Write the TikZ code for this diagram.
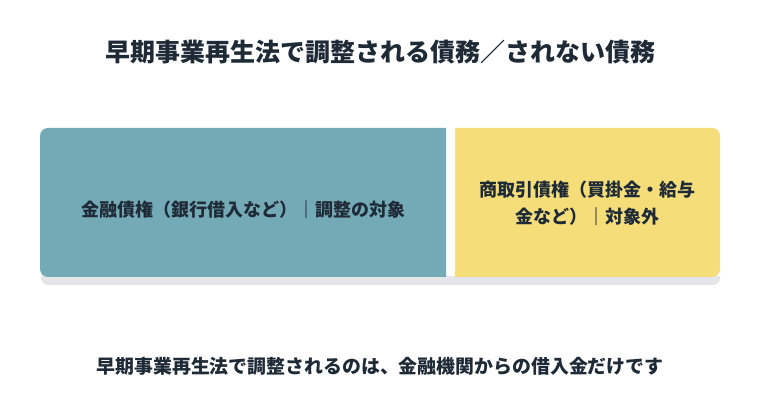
\documentclass[tikz,border=0pt]{standalone}
\usepackage{fontspec}
\setmainfont{Noto Sans CJK JP}
\definecolor{ink}{HTML}{1F2A37}
\definecolor{tealbox}{HTML}{73AAB5}
\definecolor{yellowbox}{HTML}{F5DE7A}
\definecolor{shadowc}{HTML}{E4E5E8}
\tikzset{
  lbl/.style={text=ink, font=\bfseries, inner sep=0pt, align=center},
}
\begin{document}
\begin{tikzpicture}[x=1pt,y=1pt]
\useasboundingbox (0,0) rectangle (760,415);
\fill[white] (0,0) rectangle (760,415);
% shadow strip (rounded at the bottom only)
\fill[shadowc] (41,139) [rounded corners=7pt] -- (41,130) -- (720,130) [sharp corners] -- (720,139) -- cycle;
% left block (rounded on the left)
\fill[tealbox] (446,287) [rounded corners=8pt] -- (40,287) -- (40,138) [sharp corners] -- (446,138) -- cycle;
% right block (rounded on the right)
\fill[yellowbox] (455,138) [rounded corners=8pt] -- (720,138) -- (720,287) [sharp corners] -- (455,287) -- cycle;
% texts
\node[lbl, font=\bfseries\fontsize{25}{30}\selectfont] (title) at (380,363) {早期事業再生法で調整される債務／されない債務};
\node[lbl, font=\bfseries\fontsize{18}{27}\selectfont] (fin) at (243,205) {金融債権（銀行借入など）｜調整の対象};
\node[lbl, font=\bfseries\fontsize{18}{27}\selectfont] (trade) at (587.5,211.5) {商取引債権（買掛金・給与\\金など）｜対象外};
\node[lbl, font=\bfseries\fontsize{18.9}{24}\selectfont] (note) at (380,49) {早期事業再生法で調整されるのは、金融機関からの借入金だけです};
\end{tikzpicture}
\end{document}
